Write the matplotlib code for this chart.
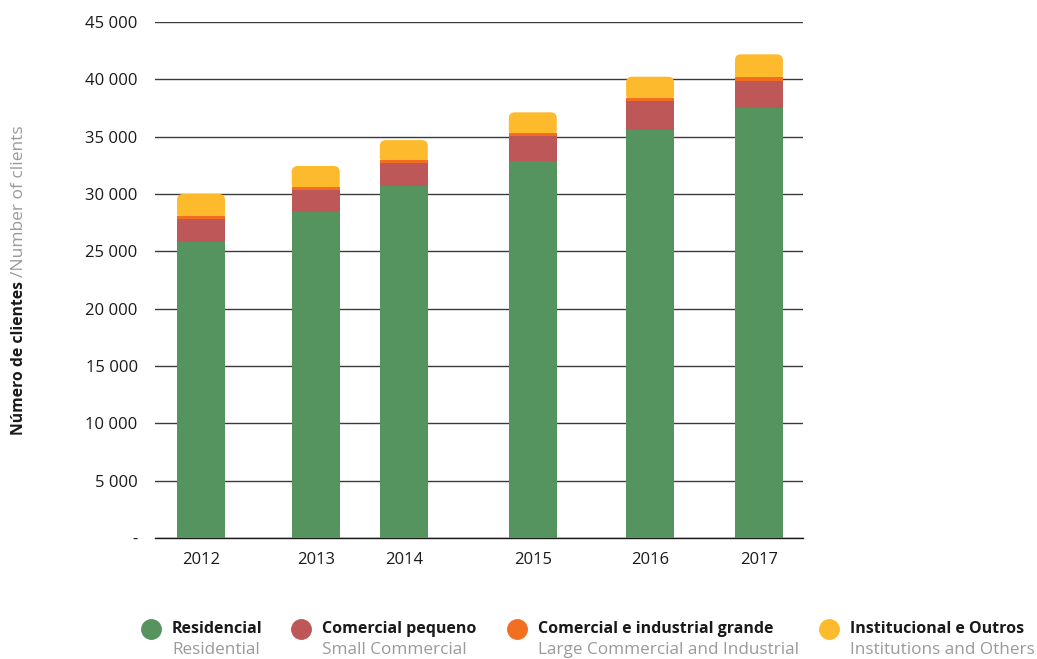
import numpy as np
import matplotlib.pyplot as plt
from matplotlib.patches import FancyBboxPatch
from matplotlib.lines import Line2D

plt.rcParams['font.family'] = ['Open Sans', 'DejaVu Sans']

years = ['2012', '2013', '2014', '2015', '2016', '2017']
residencial = [25840, 28460, 30700, 32880, 35610, 37530]
comercial_pequeno = [1980, 1890, 2000, 2200, 2530, 2350]
comercial_grande = [290, 290, 260, 270, 260, 280]
institucional = [1890, 1800, 1740, 1770, 1830, 2020]

# bar centres along the axis (0..100), spacing is not uniform
x_pos = [7.1, 24.8, 38.4, 58.3, 76.4, 93.2]
bar_w = 7.4

c_res = '#55935f'
c_com = '#be5757'
c_grd = '#f26f21'
c_ins = '#fdba2c'
c_txt = '#1a1a1a'
c_sub = '#9a9a9a'

fig = plt.figure(figsize=(10.37, 6.59), dpi=100)
ax = fig.add_axes([155/1037, 1 - 538/659, 648/1037, 516/659])

res = np.array(residencial)
com = np.array(comercial_pequeno)
grd = np.array(comercial_grande)
ins = np.array(institucional)

ax.bar(x_pos, res, width=bar_w, color=c_res, zorder=3)
ax.bar(x_pos, com, width=bar_w, bottom=res, color=c_com, zorder=3)
ax.bar(x_pos, grd, width=bar_w, bottom=res + com, color=c_grd, zorder=3)

# top segment with rounded corners; its lower edge is tucked under the orange band
ax.set_xlim(0, 100)
ax.set_ylim(0, 45000)
px_x = 100 / 648
px_y = 45000 / 516
for xc, b, top in zip(x_pos, res + com, res + com + grd + ins):
    p = FancyBboxPatch((xc - bar_w / 2, b), bar_w, top - b,
                       boxstyle='round,pad=0,rounding_size=%f' % (6 * px_x),
                       mutation_aspect=px_y / px_x,
                       fc=c_ins, ec='none', zorder=2.5)
    ax.add_patch(p)

yt = np.arange(0, 45001, 5000)
ax.set_yticks(yt)
ax.set_yticklabels(['-'] + ['{:,}'.format(v).replace(',', ' ') for v in yt[1:]])
ax.set_xticks(x_pos)
ax.set_xticklabels(years)
ax.tick_params(axis='both', length=0, labelsize=12, colors=c_txt)
ax.tick_params(axis='y', pad=12.5)
ax.tick_params(axis='x', pad=10)
ax.grid(axis='y', color='#3a3a3a', linewidth=1.0, zorder=0)
ax.set_axisbelow(True)
for s in ['top', 'right', 'left']:
    ax.spines[s].set_visible(False)
ax.spines['bottom'].set_color(c_txt)
ax.spines['bottom'].set_linewidth(1.0)

# axis title, bold Portuguese + light English stacked along the same line
t1 = fig.text(19/1037, 1 - 435/659, 'Número de clientes', rotation=90, ha='center',
              va='bottom', fontsize=11.3, fontweight='bold', color=c_txt)
fig.canvas.draw()
bb = t1.get_window_extent()
fig.text(19/1037, (bb.y1 + 4) / 659, '/Number of clients', rotation=90, ha='center',
         va='bottom', fontsize=12.5, color=c_sub)

# legend along the bottom
leg_x = [151, 301, 517, 829]
leg_pt = ['Residencial', 'Comercial pequeno', 'Comercial e industrial grande',
          'Institucional e Outros']
leg_en = ['Residential', 'Small Commercial', 'Large Commercial and Industrial',
          'Institutions and Others']
leg_c = [c_res, c_com, c_grd, c_ins]
for lx, pt, en, c in zip(leg_x, leg_pt, leg_en, leg_c):
    fig.add_artist(Line2D([lx / 1037], [1 - 629 / 659], marker='o', markersize=14,
                          color=c, linestyle='none', transform=fig.transFigure))
    fig.text((lx + 21) / 1037, 1 - 629 / 659, pt, ha='left', va='center',
             fontsize=11.5, fontweight='bold', color=c_txt)
    fig.text((lx + 21) / 1037, 1 - 650 / 659, en, ha='left', va='center',
             fontsize=12.3, color=c_sub)

fig.savefig('out.png', dpi=100)
